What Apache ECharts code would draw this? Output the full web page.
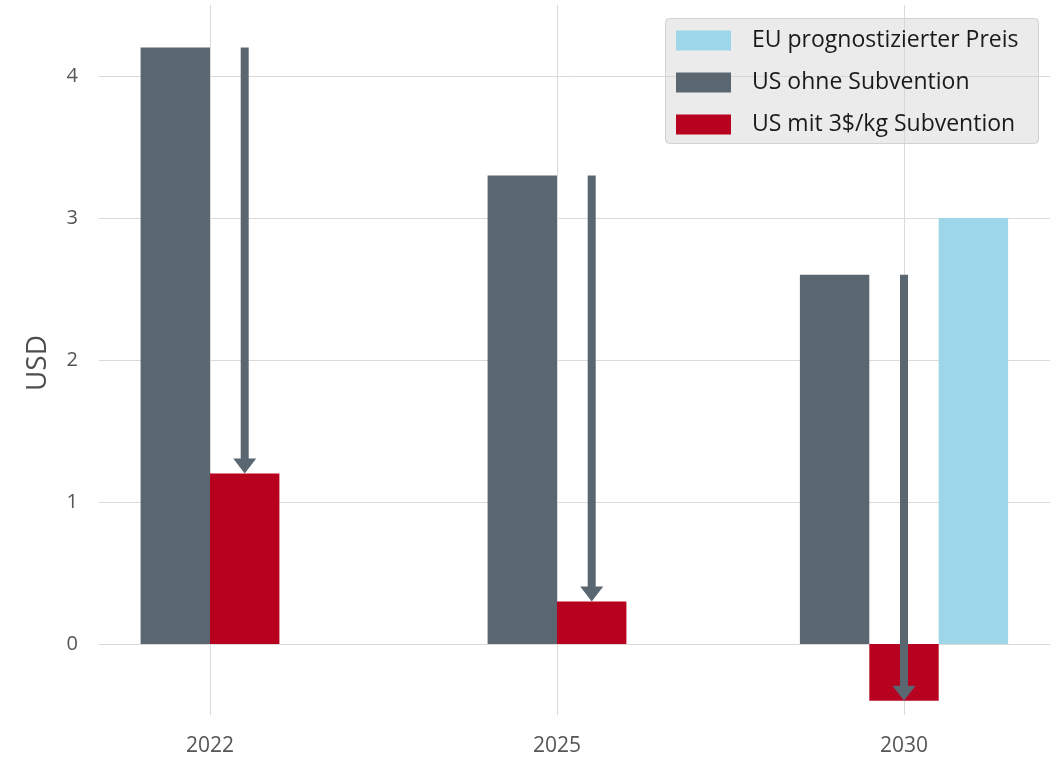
<!DOCTYPE html>
<html>
<head>
<meta charset="utf-8">
<script src="https://cdn.jsdelivr.net/npm/echarts@6/dist/echarts.min.js"></script>
<style>
html,body{margin:0;padding:0;background:#fff;}
#chart{width:1051px;height:759px;}
</style>
</head>
<body>
<div id="chart"></div>
<script>
// ---- data ----
const categories = ['2022', '2025', '2030'];
const usOhne = [4.2, 3.3, 2.6];          // US ohne Subvention
const usMit = [1.2, 0.3, -0.4];          // US mit 3$/kg Subvention
const euPreis = [null, null, 3.0];       // EU prognostizierter Preis
const yTicks = [0, 1, 2, 3, 4];

const seriesNames = ['US ohne Subvention', 'US mit 3$/kg Subvention', 'EU prognostizierter Preis'];
const seriesValues = [usOhne, usMit, euPreis];
const seriesColors = ['#5a6670', '#b8001f', '#9dd6e9'];
const BAR_W = 0.2;
const FONT = "'Open Sans', 'Noto Sans', sans-serif";

// dodge layout: for each category, count present series and assign slots
function buildSeriesData(sIdx) {
  const out = [];
  categories.forEach((c, i) => {
    const present = seriesValues.map((arr, k) => arr[i] != null ? k : -1).filter(k => k >= 0);
    const slot = present.indexOf(sIdx);
    if (slot >= 0) out.push([i, seriesValues[sIdx][i], slot, present.length]);
  });
  return out;
}

function renderBar(params, api) {
  const x = api.value(0), v = api.value(1), slot = api.value(2), n = api.value(3);
  const left = x + (slot - n / 2) * BAR_W;
  const p0 = api.coord([left, 0]);
  const p1 = api.coord([left + BAR_W, v]);
  return {
    type: 'rect',
    shape: { x: p0[0], y: Math.min(p0[1], p1[1]), width: p1[0] - p0[0], height: Math.abs(p1[1] - p0[1]) },
    style: api.style()
  };
}

// arrows from gray bar top to red bar top, at red bar center
const arrowData = categories.map((c, i) => {
  const present = seriesValues.map((arr, k) => arr[i] != null ? k : -1).filter(k => k >= 0);
  const slot = present.indexOf(1);
  return [i + (slot + 0.5 - present.length / 2) * BAR_W, usOhne[i], usMit[i]];
});

function renderArrow(params, api) {
  const cx = api.value(0), from = api.value(1), to = api.value(2);
  const pA = api.coord([cx, from]);
  const pB = api.coord([cx, to]);
  const headH = 15, headW = 23, shaftW = 8;
  const color = '#5a6670';
  return {
    type: 'group',
    children: [
      { type: 'rect', shape: { x: pA[0] - shaftW / 2, y: pA[1], width: shaftW, height: pB[1] - headH - pA[1] + 1 }, style: { fill: color } },
      { type: 'polygon', shape: { points: [[pB[0] - headW / 2, pB[1] - headH], [pB[0] + headW / 2, pB[1] - headH], [pB[0], pB[1]]] }, style: { fill: color } }
    ]
  };
}

const chart = echarts.init(document.getElementById('chart'), null, { renderer: 'canvas' });

const barSeries = seriesNames.map((name, k) => ({
  name: name,
  type: 'custom',
  xAxisIndex: 1,
  yAxisIndex: 1,
  renderItem: renderBar,
  itemStyle: { color: seriesColors[k] },
  data: buildSeriesData(k),
  z: 3,
  silent: true
}));

const option = {
  animation: false,
  backgroundColor: '#ffffff',
  textStyle: { fontFamily: FONT },
  grid: [
    { left: 99, right: 1, top: 76, bottom: 115 },
    { left: 210, right: 147, top: 5, bottom: 44 }
  ],
  xAxis: [
    { gridIndex: 0, type: 'value', min: 0, max: 1, show: false },
    {
      gridIndex: 1, type: 'value', min: 0, max: categories.length - 1, interval: 1,
      axisLine: { show: false }, axisTick: { show: false },
      splitLine: { show: true, lineStyle: { color: '#dadada', width: 1 } },
      axisLabel: { formatter: v => categories[v] || '', fontSize: 21, color: '#555555', margin: 21, fontFamily: FONT }
    }
  ],
  yAxis: [
    {
      gridIndex: 0, type: 'value', min: yTicks[0], max: yTicks[yTicks.length - 1], interval: 1,
      axisLine: { show: false }, axisTick: { show: false },
      splitLine: { show: true, lineStyle: { color: '#dadada', width: 1 } },
      axisLabel: { fontSize: 20, color: '#555555', margin: 21, fontFamily: FONT }
    },
    { gridIndex: 1, type: 'value', min: -0.5, max: 4.5, show: false, splitLine: { show: false } }
  ],
  legend: {
    orient: 'vertical',
    left: 676,
    top: 29,
    padding: 0,
    icon: 'rect',
    itemWidth: 55,
    itemHeight: 20,
    itemGap: 19,
    data: ['EU prognostizierter Preis', 'US ohne Subvention', 'US mit 3$/kg Subvention'],
    textStyle: { fontSize: 23, color: '#1a1a1a', fontFamily: FONT, padding: [0, 0, 0, 16] },
    selectedMode: false,
    z: 5
  },
  graphic: [
    {
      type: 'rect', z: 4, left: 665, top: 18,
      shape: { width: 373, height: 125, r: 4 },
      style: { fill: 'rgba(210,210,210,0.45)', stroke: '#d2d2d2', lineWidth: 1 }
    },
    {
      type: 'text', z: 4, x: 38, y: 363, rotation: Math.PI / 2,
      style: { text: 'USD', fontSize: 28, fill: '#4d4d4d', fontFamily: FONT, align: 'center', verticalAlign: 'middle' }
    }
  ],
  series: barSeries.concat([{
    name: 'arrows',
    type: 'custom',
    xAxisIndex: 1,
    yAxisIndex: 1,
    renderItem: renderArrow,
    data: arrowData,
    z: 4,
    silent: true
  }])
};
chart.setOption(option);
</script>
</body>
</html>
